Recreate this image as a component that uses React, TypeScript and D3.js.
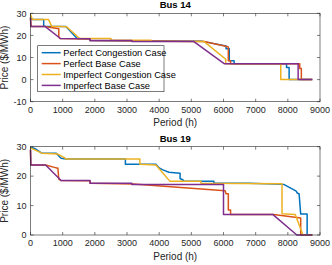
import * as d3 from "d3";
import { useEffect, useRef } from "react";

// Bus 14 price duration curves: [period (h), price ($/MWh)]
const bus14PerfectCongestion = [[0, 28.5], [40, 27.2], [410, 27.2], [410, 24.1], [1100, 24.0], [1450, 18.6], [1850, 18.4], [1850, 17.7], [5350, 17.3], [6080, 15.2], [6080, 14], [6180, 14], [6180, 8.5], [6330, 8.5], [6330, 7.2], [7960, 7.2], [7960, 5.5], [8040, 5.5], [8040, 0], [8760, 0]];
const bus14PerfectBase = [[0, 28], [20, 24], [450, 24], [880, 23], [880, 19.3], [920, 18.6], [1850, 18.4], [1850, 17.7], [5400, 17.2], [6100, 15], [6150, 14.8], [6150, 8.5], [6220, 8.5], [6220, 7.2], [8370, 7.2], [8370, 5], [8420, 5], [8420, 0], [8760, 0]];
const bus14ImperfectCongestion = [[0, 29.5], [60, 27.2], [560, 27.2], [660, 24.1], [1120, 23.9], [1530, 18.6], [2500, 18.6], [2500, 17.8], [3750, 17.8], [3750, 17.3], [5400, 17.2], [6070, 9.2], [6070, 7.2], [7780, 7.2], [7780, 0], [8760, 0]];
const bus14ImperfectBase = [[0, 28], [10, 24], [460, 24], [930, 18.6], [1850, 18.5], [1850, 17.7], [3150, 17.7], [3150, 17.2], [5080, 17.2], [6020, 7.2], [8320, 7.2], [8320, 0], [8760, 0]];

// Bus 19
const bus19PerfectCongestion = [[0, 29.8], [150, 29.3], [350, 27.8], [800, 27.8], [950, 26.1], [1100, 25.8], [2950, 25.8], [2950, 24.0], [3900, 24.0], [4000, 22.8], [4100, 22.2], [4300, 21.3], [4650, 21.0], [4650, 19.2], [4750, 18.6], [4750, 18.3], [5700, 18.3], [5700, 17.6], [6800, 17.6], [7870, 17.2], [8250, 15], [8300, 14.2], [8350, 14.0], [8400, 7.1], [8600, 7.1], [8600, 0], [8760, 0]];
const bus19PerfectBase = [[0, 29], [10, 23.8], [470, 23.8], [800, 22.8], [850, 22.8], [880, 19], [950, 18.5], [1850, 18.4], [1850, 17.6], [3200, 17.3], [6050, 15], [6080, 14], [6150, 14], [6150, 8.5], [6220, 8.5], [6220, 7.0], [7560, 7.0], [8400, 5.8], [8400, 0], [8760, 0]];
const bus19ImperfectCongestion = [[0, 29.6], [350, 27.8], [850, 27.5], [1050, 26.3], [1100, 25.8], [3400, 25.8], [3400, 24.0], [3900, 23.8], [4330, 18.3], [5300, 18.3], [5300, 17.6], [7820, 17.4], [7820, 7.2], [8230, 7.0], [8470, 0], [8760, 0]];
const bus19ImperfectBase = [[0, 29], [10, 23.8], [470, 23.8], [950, 18.5], [1850, 18.5], [1850, 17.6], [3150, 17.6], [3150, 17.2], [6000, 17.2], [6000, 7.0], [7530, 7.0], [8280, 0], [8760, 0]];

const seriesNames = ["Perfect Congestion Case", "Perfect Base Case", "Imperfect Congestion Case", "Imperfect Base Case"];
const colors = ["#0072BD", "#D95319", "#EDB120", "#7E2F8E"];
const xTicks = [0, 1000, 2000, 3000, 4000, 5000, 6000, 7000, 8000, 9000];
const yTicks14 = [-10, 0, 10, 20, 30];
const yTicks19 = [0, 10, 20, 30];

const App = () => {
    const ref = useRef(null);

    useEffect(() => {
        document.body.style.margin = "0";
        const svg = d3.select(ref.current);
        svg.selectChildren().remove();
        const font = "'Liberation Sans', Arial, sans-serif";
        const axisColor = "#262626";

        const drawPanel = (title, series, yDomain, yTicks, top, bottom, legend) => {
            const left = 30.5, right = 320;
            const x = d3.scaleLinear().domain([0, 9000]).range([left, right]);
            const y = d3.scaleLinear().domain(yDomain).range([bottom, top]);
            const g = svg.append("g");

            // lines, MATLAB order (last on top)
            const line = d3.line().x(d => x(d[0])).y(d => y(d[1]));
            series.forEach((s, i) => {
                g.append("path")
                    .attr("d", line(s))
                    .attr("fill", "none")
                    .attr("stroke", colors[i])
                    .attr("stroke-width", 1.5)
                    .attr("stroke-linejoin", "round");
            });

            // box
            g.append("rect")
                .attr("x", left).attr("y", top)
                .attr("width", right - left).attr("height", bottom - top)
                .attr("fill", "none").attr("stroke", axisColor).attr("stroke-width", 0.6);

            const tl = 3;
            xTicks.forEach(t => {
                g.append("line").attr("x1", x(t)).attr("x2", x(t)).attr("y1", bottom).attr("y2", bottom - tl)
                    .attr("stroke", axisColor).attr("stroke-width", 0.6);
                g.append("line").attr("x1", x(t)).attr("x2", x(t)).attr("y1", top).attr("y2", top + tl)
                    .attr("stroke", axisColor).attr("stroke-width", 0.6);
                g.append("text").attr("x", x(t)).attr("y", bottom + 11)
                    .attr("text-anchor", "middle").attr("font-family", font).attr("font-size", 9)
                    .attr("fill", axisColor).text(t);
            });
            yTicks.forEach(t => {
                g.append("line").attr("x1", left).attr("x2", left + tl).attr("y1", y(t)).attr("y2", y(t))
                    .attr("stroke", axisColor).attr("stroke-width", 0.6);
                g.append("line").attr("x1", right).attr("x2", right - tl).attr("y1", y(t)).attr("y2", y(t))
                    .attr("stroke", axisColor).attr("stroke-width", 0.6);
                g.append("text").attr("x", left - 4).attr("y", y(t) + 3.2)
                    .attr("text-anchor", "end").attr("font-family", font).attr("font-size", 9)
                    .attr("fill", axisColor).text(t);
            });

            g.append("text").attr("x", (left + right) / 2).attr("y", top - 5)
                .attr("text-anchor", "middle").attr("font-family", font).attr("font-size", 9.5)
                .attr("font-weight", "bold").attr("fill", "#000").text(title);
            g.append("text").attr("x", (left + right) / 2).attr("y", bottom + 24.5)
                .attr("text-anchor", "middle").attr("font-family", font).attr("font-size", 10)
                .attr("fill", axisColor).text("Period (h)");
            g.append("text")
                .attr("transform", `translate(8, ${(top + bottom) / 2}) rotate(-90)`)
                .attr("text-anchor", "middle").attr("font-family", font).attr("font-size", 10)
                .attr("fill", axisColor).text("Price ($/MWh)");

            if (legend) {
                const lx = 37.7, ly = 45.7, lw = 126.3, lh = 46;
                g.append("rect").attr("x", lx).attr("y", ly).attr("width", lw).attr("height", lh)
                    .attr("fill", "#fff").attr("stroke", axisColor).attr("stroke-width", 0.6);
                seriesNames.forEach((name, i) => {
                    const cy = ly + 7 + i * 10.9;
                    g.append("line").attr("x1", lx + 4).attr("x2", lx + 23).attr("y1", cy).attr("y2", cy)
                        .attr("stroke", colors[i]).attr("stroke-width", 1.5);
                    g.append("text").attr("x", lx + 25.5).attr("y", cy + 3.2)
                        .attr("font-family", font).attr("font-size", 9.3).attr("fill", "#000").text(name);
                });
            }
        };

        drawPanel("Bus 14", [bus14PerfectCongestion, bus14PerfectBase, bus14ImperfectCongestion, bus14ImperfectBase],
            [-10, 30], yTicks14, 13.3, 101.7, true);
        drawPanel("Bus 19", [bus19PerfectCongestion, bus19PerfectBase, bus19ImperfectCongestion, bus19ImperfectBase],
            [0, 30], yTicks19, 146.7, 235, false);
    });

    return (
        <svg ref={ref} width={332} height={265} style={{ display: "block", background: "#fff" }}></svg>
    );
};

export default App;
